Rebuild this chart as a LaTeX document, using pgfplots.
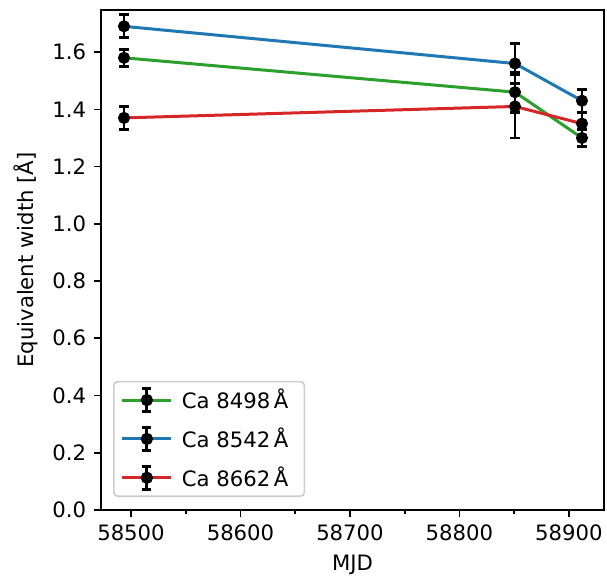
\documentclass[border=0pt]{standalone}
\usepackage{fontspec}
\setmainfont{DejaVu Sans}
\usepackage{pgfplots}
\pgfplotsset{compat=1.18}
\definecolor{cblue}{HTML}{1F77B4}
\definecolor{cgreen}{HTML}{2CA02C}
\definecolor{cred}{HTML}{D62728}
\pgfplotsset{
  errleg/.style={legend image code/.code={
    \draw[##1, line width=1.5pt] (0pt,0pt) -- (24.5pt,0pt);
    \draw[black, line width=1.4pt] (12.25pt,-5.8pt) -- (12.25pt,5.8pt)
       (10pt,-5.8pt) -- (14.5pt,-5.8pt) (10pt,5.8pt) -- (14.5pt,5.8pt);
    \fill[black] (12.25pt,0pt) circle (2.3pt);
  }},
  ebar/.style={black, only marks, mark=*, mark size=2.3pt, forget plot, line width=1.4pt,
    error bars/y dir=both, error bars/y explicit,
    error bars/error bar style={line width=1.4pt, black},
    error bars/error mark options={rotate=90, mark size=2.4pt, line width=1.4pt, black}}
}
\begin{document}
\fontsize{10.6}{12.7}\selectfont
\begin{tikzpicture}
\path[use as bounding box] (-50.5pt,-32.5pt) rectangle (253pt,255pt);
\begin{axis}[
  scale only axis, width=251.5pt, height=250pt,
  xmin=58472.6, xmax=58932, ymin=0, ymax=1.747,
  xtick={58500,58600,58700,58800,58900},
  scaled x ticks=false,
  minor x tick num=1,
  ytick={0,0.2,0.4,0.6,0.8,1.0,1.2,1.4,1.6},
  yticklabel style={/pgf/number format/fixed, /pgf/number format/fixed zerofill, /pgf/number format/precision=1},
  xticklabel style={/pgf/number format/set thousands separator={}},
  /pgf/number format/assume math mode=true,
  tick align=outside, tick pos=left,
  major tick length=3.7pt, minor tick length=2.1pt,
  every tick/.style={black, line width=0.8pt},
  axis line style={line width=0.8pt},
  xlabel={MJD}, ylabel={Equivalent width [Å]},
  legend style={at={(0.024,0.026)}, anchor=south west, draw=black!20,
    rounded corners=2pt, fill=white, fill opacity=0.8, text opacity=1,
    row sep=3pt, inner xsep=3.5pt, inner ysep=1pt, line width=0.8pt,
    nodes={inner xsep=4.5pt, inner ysep=2.5pt}},
  legend cell align=left,
]
\addplot[cgreen, line width=1.5pt, errleg] coordinates {(58493.6,1.58) (58850.7,1.46) (58911.9,1.30)};
\addlegendentry{Ca 8498\,Å}
\addplot[cblue, line width=1.5pt, errleg] coordinates {(58493.6,1.69) (58850.7,1.56) (58911.9,1.43)};
\addlegendentry{Ca 8542\,Å}
\addplot[cred, line width=1.5pt, errleg] coordinates {(58493.6,1.37) (58850.7,1.41) (58911.9,1.35)};
\addlegendentry{Ca 8662\,Å}
\addplot[ebar] coordinates {(58493.6,1.58) +- (0,0.03) (58850.7,1.46) +- (0,0.07) (58911.9,1.30) +- (0,0.03)};
\addplot[ebar] coordinates {(58493.6,1.69) +- (0,0.04) (58850.7,1.56) +- (0,0.07) (58911.9,1.43) +- (0,0.04)};
\addplot[ebar] coordinates {(58493.6,1.37) +- (0,0.04) (58850.7,1.41) +- (0,0.11) (58911.9,1.35) +- (0,0.04)};
\end{axis}
\end{tikzpicture}
\end{document}
